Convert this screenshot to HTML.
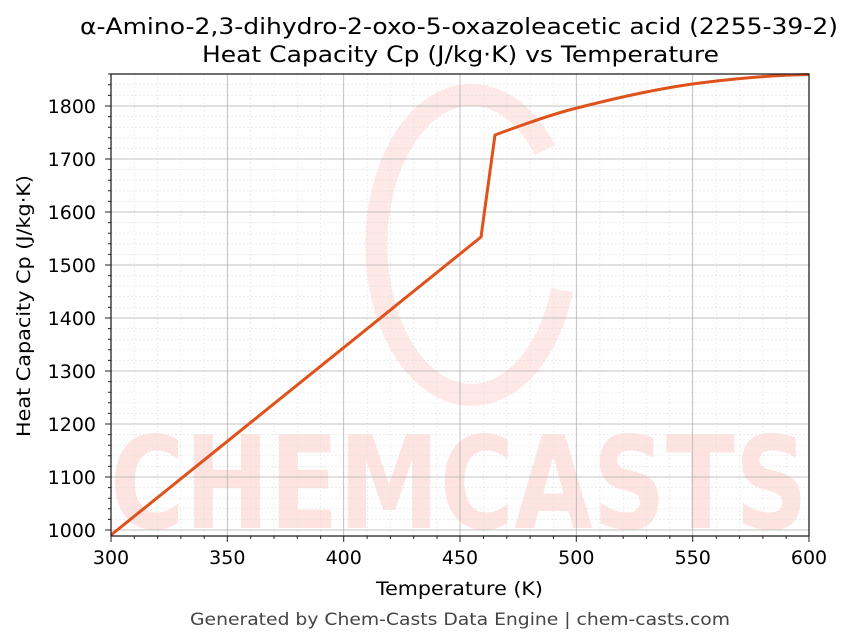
<!DOCTYPE html>
<html><head><meta charset="utf-8"><style>
html,body{margin:0;padding:0;background:#fff;}
svg{display:block;font-family:"DejaVu Sans","Liberation Sans",sans-serif;}
</style></head><body>
<svg width="854" height="644" viewBox="0 0 854 644" xmlns="http://www.w3.org/2000/svg">
<rect width="854" height="644" fill="#fff"/>
<!-- watermark -->
<g opacity="0.5">
<path d="M545,150 A95,150 0 1 0 562,290" fill="none" stroke="#fcc8c0" stroke-width="22" opacity="0.8"/>
<text x="110" y="528" font-size="128" font-weight="bold" fill="#fcc8c0" textLength="698" lengthAdjust="spacingAndGlyphs">CHEMCASTS</text>
</g>
<!-- minor grid -->
<g stroke="#e0e0e0" stroke-width="0.6" stroke-dasharray="2,2">
<path d="M134.3,74V536M157.6,74V536M180.9,74V536M204.2,74V536M250.7,74V536M274,74V536M297.3,74V536M320.6,74V536M367.1,74V536M390.4,74V536M413.7,74V536M437,74V536M483.5,74V536M506.8,74V536M530.1,74V536M553.4,74V536M599.9,74V536M623.2,74V536M646.5,74V536M669.8,74V536M716.3,74V536M739.6,74V536M762.9,74V536M786.2,74V536"/>
<path d="M111,519.4H809M111,508.8H809M111,498.2H809M111,487.6H809M111,466.4H809M111,455.8H809M111,445.2H809M111,434.6H809M111,413.4H809M111,402.8H809M111,392.2H809M111,381.6H809M111,360.4H809M111,349.8H809M111,339.2H809M111,328.6H809M111,307.4H809M111,296.8H809M111,286.2H809M111,275.6H809M111,254.4H809M111,243.8H809M111,233.2H809M111,222.6H809M111,201.4H809M111,190.8H809M111,180.2H809M111,169.6H809M111,148.4H809M111,137.8H809M111,127.2H809M111,116.6H809M111,95.4H809M111,84.8H809"/>
</g>
<!-- major grid -->
<g stroke="#b0b0b0" stroke-width="0.8">
<path d="M227.3,74V536M343.7,74V536M460,74V536M576.3,74V536M692.7,74V536"/>
<path d="M111,530H809M111,477H809M111,424H809M111,371H809M111,318H809M111,265H809M111,212H809M111,159H809M111,106H809"/>
</g>
<!-- curve -->
<path d="M111,535 L481,237 L495,135 C530,122 560,112 577,108 C620,97 660,88 700,83 C740,78 780,75 809,74.5" fill="none" stroke="#e0521c" stroke-width="3"/>
<!-- axes box -->
<rect x="111" y="74" width="698" height="462" fill="none" stroke="#222" stroke-width="1.3"/>
<!-- ticks -->
<g stroke="#222" stroke-width="1">
<path d="M111,536v6M227.3,536v6M343.7,536v6M460,536v6M576.3,536v6M692.7,536v6M809,536v6"/>
<path d="M134.3,536v3M157.6,536v3M180.9,536v3M204.2,536v3M250.7,536v3M274,536v3M297.3,536v3M320.6,536v3M367.1,536v3M390.4,536v3M413.7,536v3M437,536v3M483.5,536v3M506.8,536v3M530.1,536v3M553.4,536v3M599.9,536v3M623.2,536v3M646.5,536v3M669.8,536v3M716.3,536v3M739.6,536v3M762.9,536v3M786.2,536v3"/>
<path d="M111,530h-6M111,477h-6M111,424h-6M111,371h-6M111,318h-6M111,265h-6M111,212h-6M111,159h-6M111,106h-6"/>
<path d="M111,519.4h-3M111,508.8h-3M111,498.2h-3M111,487.6h-3M111,466.4h-3M111,455.8h-3M111,445.2h-3M111,434.6h-3M111,413.4h-3M111,402.8h-3M111,392.2h-3M111,381.6h-3M111,360.4h-3M111,349.8h-3M111,339.2h-3M111,328.6h-3M111,307.4h-3M111,296.8h-3M111,286.2h-3M111,275.6h-3M111,254.4h-3M111,243.8h-3M111,233.2h-3M111,222.6h-3M111,201.4h-3M111,190.8h-3M111,180.2h-3M111,169.6h-3M111,148.4h-3M111,137.8h-3M111,127.2h-3M111,116.6h-3M111,95.4h-3M111,84.8h-3M111,74h-3"/>
</g>
<g font-size="19" fill="#000" text-anchor="middle">
<text x="111" y="564">300</text><text x="227.3" y="564">350</text><text x="343.7" y="564">400</text><text x="460" y="564">450</text><text x="576.3" y="564">500</text><text x="692.7" y="564">550</text><text x="809" y="564">600</text>
</g>
<g font-size="19" fill="#000" text-anchor="end">
<text x="96" y="537">1000</text><text x="96" y="484">1100</text><text x="96" y="431">1200</text><text x="96" y="378">1300</text><text x="96" y="325">1400</text><text x="96" y="272">1500</text><text x="96" y="219">1600</text><text x="96" y="166">1700</text><text x="96" y="113">1800</text>
</g>
<text x="376" y="595" font-size="19" textLength="167" lengthAdjust="spacingAndGlyphs">Temperature (K)</text>
<text transform="translate(30,437) rotate(-90)" font-size="19" textLength="262" lengthAdjust="spacingAndGlyphs">Heat Capacity Cp (J/kg·K)</text>
<text x="80" y="34" font-size="22" textLength="758" lengthAdjust="spacingAndGlyphs">α-Amino-2,3-dihydro-2-oxo-5-oxazoleacetic acid (2255-39-2)</text>
<text x="202" y="62" font-size="22" textLength="517" lengthAdjust="spacingAndGlyphs">Heat Capacity Cp (J/kg·K) vs Temperature</text>
<text x="190" y="625" font-size="17" fill="#444" textLength="540" lengthAdjust="spacingAndGlyphs">Generated by Chem-Casts Data Engine | chem-casts.com</text>
</svg>
</body></html>
